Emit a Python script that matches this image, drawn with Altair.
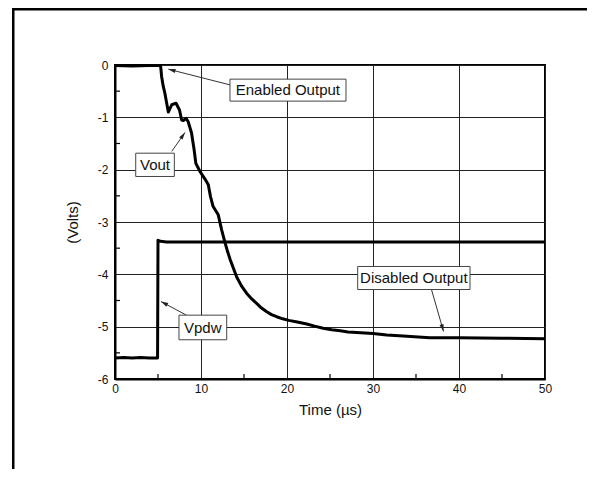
import math
import altair as alt
import pandas as pd

# ---- data ----
vpdw_t = [0, 1, 2, 3, 4, 4.95, 5.0, 5.3, 6, 8, 10, 15, 20, 25, 30, 35, 40, 45, 50]
vpdw_v = [-5.60, -5.59, -5.60, -5.59, -5.60, -5.60, -3.35, -3.37, -3.38, -3.38, -3.38, -3.38,
          -3.38, -3.38, -3.38, -3.38, -3.38, -3.38, -3.38]

vout_t = [0, 2, 4, 5.3, 5.42, 5.6, 5.8, 6.0, 6.2, 6.4, 6.6, 7.1, 7.5, 7.75, 7.95, 8.26, 8.5,
          8.9, 9.2, 9.4, 9.9, 10.5, 10.85, 11.1, 11.4, 12.0, 12.4, 12.8, 13.1, 13.4, 13.8,
          14.15, 14.7, 15.3, 15.9, 16.5, 17.0, 17.6, 18.2, 18.8, 19.5, 20.2, 21.2, 22.3,
          23.2, 24.2, 25.2, 26.2, 27.1, 28.1, 30, 31.6, 33.5, 36.6, 40, 45, 50]
vout_v = [-0.01, -0.02, -0.01, -0.01, -0.22, -0.40, -0.54, -0.72, -0.90, -0.83, -0.76, -0.73,
          -0.86, -1.05, -1.06, -1.02, -1.08, -1.30, -1.62, -1.88, -2.04, -2.19, -2.29, -2.51,
          -2.70, -2.86, -3.15, -3.40, -3.57, -3.72, -3.90, -4.05, -4.22, -4.36, -4.47, -4.56,
          -4.64, -4.71, -4.77, -4.81, -4.85, -4.88, -4.91, -4.95, -4.99, -5.03, -5.06, -5.08,
          -5.10, -5.11, -5.13, -5.16, -5.18, -5.21, -5.21, -5.22, -5.23]

x_ticks = [0, 10, 20, 30, 40, 50]
y_ticks = [0, -1, -2, -3, -4, -5, -6]
x_minor = [5, 15, 25, 35, 45]
y_minor = [-0.5, -1.5, -2.5, -3.5, -4.5, -5.5]

# annotations
ann_text = ["Enabled Output", "Vout", "Vpdw", "Disabled Output"]
ann_t = [20.1, 4.65, 10.2, 34.75]
ann_v = [-0.48, -1.91, -5.02, -4.07]
box_t0 = [13.37, 2.41, 7.44, 28.22]
box_t1 = [26.86, 6.90, 12.99, 41.28]
box_v0 = [-0.27, -1.685, -4.78, -3.85]
box_v1 = [-0.69, -2.13, -5.25, -4.29]
arr_t0 = [13.37, 6.6, 8.3, 36.8]
arr_v0 = [-0.38, -1.65, -4.78, -4.29]
arr_t1 = [6.2, 8.14, 5.35, 38.2]
arr_v1 = [-0.08, -1.29, -4.52, -5.09]

W, H = 430, 314
XD, YD = [0, 50], [-6, 0]
px_per_t = W / (XD[1] - XD[0])
px_per_v = H / (YD[1] - YD[0])

df_lines = pd.concat([
    pd.DataFrame({"t": vpdw_t, "v": vpdw_v, "s": "Vpdw", "o": range(len(vpdw_t))}),
    pd.DataFrame({"t": vout_t, "v": vout_v, "s": "Vout", "o": range(len(vout_t))}),
])

angles = []
for a, b, c, d in zip(arr_t0, arr_v0, arr_t1, arr_v1):
    dx = (c - a) * px_per_t
    dy = -(d - b) * px_per_v
    angles.append(math.degrees(math.atan2(dx, -dy)) % 360)

df_ann = pd.DataFrame({
    "text": ann_text, "t": ann_t, "v": ann_v,
    "bt0": box_t0, "bt1": box_t1, "bv0": box_v0, "bv1": box_v1,
    "at0": arr_t0, "av0": arr_v0, "at1": arr_t1, "av1": arr_v1, "ang": angles,
})

df_xminor = pd.DataFrame({"t": x_minor, "v0": [YD[0]] * len(x_minor),
                          "v1": [YD[0] + 5 / px_per_v] * len(x_minor)})
df_yminor = pd.DataFrame({"v": y_minor, "t0": [XD[0]] * len(y_minor),
                          "t1": [XD[0] + 5 / px_per_t] * len(y_minor)})

FONT = "Liberation Sans"
xs = alt.Scale(domain=XD, nice=False, zero=False)
ys = alt.Scale(domain=YD, nice=False, zero=False)

x_axis = alt.Axis(values=x_ticks, grid=True, ticks=False, title="Time (µs)",
                  labelFontSize=12, labelPadding=4, titleFontSize=15, titlePadding=8,
                  titleFontWeight="normal", labelColor="#111", titleColor="#111",
                  domainColor="#000", domainWidth=2, gridColor="#222", gridWidth=1,
                  labelFont=FONT, titleFont=FONT, labelFlush=False)
y_axis = alt.Axis(values=y_ticks, grid=True, ticks=False, title="(Volts)",
                  labelExpr="datum.value == 0 ? '0' : '-' + abs(datum.value)",
                  labelFontSize=12, labelPadding=7, titleFontSize=15, titlePadding=17,
                  titleFontWeight="normal", labelColor="#111", titleColor="#111",
                  domainColor="#000", domainWidth=2, gridColor="#222", gridWidth=1,
                  labelFont=FONT, titleFont=FONT, labelFlush=False)

# page frame (decoration): thin filled bars kept inside the canvas
one = pd.DataFrame({"k": [0]})
frame_left = alt.Chart(one).mark_rect(fill="#000", strokeWidth=0, clip=False).encode(
    x=alt.value(-103), x2=alt.value(-100.5), y=alt.value(-57), y2=alt.value(404))
frame_top = alt.Chart(one).mark_rect(fill="#000", strokeWidth=0, clip=False).encode(
    x=alt.value(-103), x2=alt.value(472), y=alt.value(-57), y2=alt.value(-54.5))

lines = alt.Chart(df_lines).mark_line(color="#000", strokeWidth=3, clip=True,
                                      strokeJoin="round").encode(
    x=alt.X("t:Q", scale=xs, axis=x_axis),
    y=alt.Y("v:Q", scale=ys, axis=y_axis),
    detail="s:N",
    order="o:Q",
)

xminor = alt.Chart(df_xminor).mark_rule(color="#000", strokeWidth=1.2).encode(
    x=alt.X("t:Q", scale=xs), y=alt.Y("v0:Q", scale=ys), y2="v1:Q")
yminor = alt.Chart(df_yminor).mark_rule(color="#000", strokeWidth=1.2).encode(
    y=alt.Y("v:Q", scale=ys), x=alt.X("t0:Q", scale=xs), x2="t1:Q")

arrows = alt.Chart(df_ann).mark_rule(color="#333", strokeWidth=1).encode(
    x=alt.X("at0:Q", scale=xs), y=alt.Y("av0:Q", scale=ys), x2="at1:Q", y2="av1:Q")
heads = alt.Chart(df_ann).mark_point(
    shape="M0,0L0.7,2.4L-0.7,2.4Z", filled=True, color="#222", size=36, opacity=1
).encode(
    x=alt.X("at1:Q", scale=xs), y=alt.Y("av1:Q", scale=ys),
    angle=alt.Angle("ang:Q", scale=None))
boxes = alt.Chart(df_ann).mark_rect(fill="#fff", stroke="#444", strokeWidth=1).encode(
    x=alt.X("bt0:Q", scale=xs), x2="bt1:Q", y=alt.Y("bv0:Q", scale=ys), y2="bv1:Q")
texts = alt.Chart(df_ann).mark_text(font=FONT, fontSize=15, color="#111",
                                    baseline="middle", align="center").encode(
    x=alt.X("t:Q", scale=xs), y=alt.Y("v:Q", scale=ys), text="text:N")

chart = alt.layer(lines, xminor, yminor, arrows, heads, boxes, texts,
                  frame_left, frame_top).properties(
    width=W, height=H,
    autosize=alt.AutoSizeParams(type="none"),
    padding={"left": 107, "top": 57, "right": 43, "bottom": 91},
    background="#ffffff",
).configure_view(stroke="#000", strokeWidth=2)

chart.save("out.html", embed_options={"renderer": "svg", "actions": False})
